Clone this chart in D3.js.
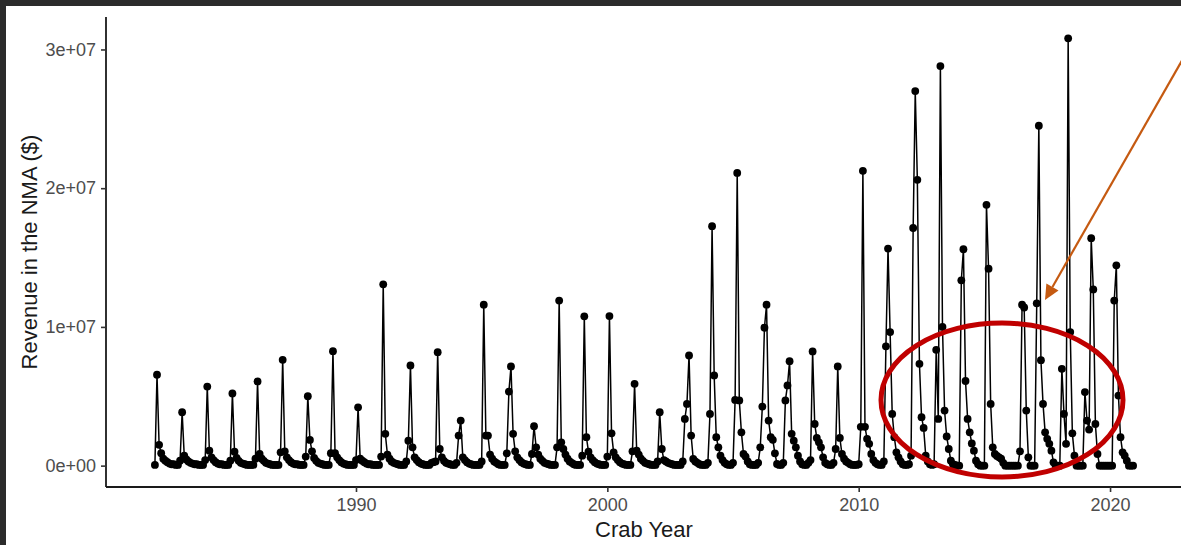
<!DOCTYPE html>
<html>
<head>
<meta charset="utf-8">
<script src="https://cdn.jsdelivr.net/npm/d3@7"></script>
<style>
  body { margin: 0; background: #ffffff; }
  svg { display: block; font-family: "Liberation Sans", Arial, sans-serif; }
</style>
</head>
<body>
<svg></svg>
<script>
'use strict';

// crab years on the x axis (one row of monthly revenue per year)
var crabYears = [1982, 1983, 1984, 1985, 1986, 1987, 1988, 1989, 1990, 1991,
                 1992, 1993, 1994, 1995, 1996, 1997, 1998, 1999, 2000, 2001,
                 2002, 2003, 2004, 2005, 2006, 2007, 2008, 2009, 2010, 2011,
                 2012, 2013, 2014, 2015, 2016, 2017, 2018, 2019, 2020];

// monthly revenue in the NMA, millions of dollars, 12 values per crab year
var monthlyRevenue = [
    [0.05, 6.55, 1.5, 0.9, 0.5, 0.36, 0.25, 0.15, 0.1, 0.1, 0.05, 0.05],
    [0.36, 3.85, 0.72, 0.45, 0.3, 0.2, 0.15, 0.1, 0.1, 0.05, 0.05, 0.05],
    [0.4, 5.7, 1.08, 0.6, 0.4, 0.25, 0.15, 0.1, 0.1, 0.05, 0.05, 0.05],
    [0.36, 5.2, 1.0, 0.55, 0.35, 0.2, 0.15, 0.1, 0.05, 0.05, 0.05, 0.05],
    [0.5, 6.07, 0.84, 0.5, 0.35, 0.2, 0.15, 0.1, 0.05, 0.05, 0.05, 0.05],
    [0.96, 7.63, 1.03, 0.6, 0.4, 0.25, 0.15, 0.1, 0.1, 0.05, 0.05, 0.05],
    [0.65, 5.0, 1.85, 1.03, 0.55, 0.35, 0.2, 0.15, 0.1, 0.05, 0.05, 0.05],
    [0.9, 8.25, 0.9, 0.6, 0.4, 0.25, 0.15, 0.1, 0.05, 0.05, 0.05, 0.05],
    [0.4, 4.2, 0.5, 0.36, 0.25, 0.15, 0.1, 0.1, 0.05, 0.05, 0.05, 0.05],
    [0.65, 13.07, 2.29, 0.8, 0.5, 0.3, 0.2, 0.15, 0.1, 0.05, 0.05, 0.05],
    [0.3, 1.8, 7.22, 1.32, 0.6, 0.4, 0.25, 0.15, 0.1, 0.05, 0.05, 0.05],
    [0.2, 0.25, 0.3, 8.18, 1.2, 0.6, 0.35, 0.2, 0.15, 0.1, 0.05, 0.05],
    [0.2, 2.17, 3.25, 0.6, 0.4, 0.25, 0.15, 0.1, 0.05, 0.05, 0.05, 0.05],
    [0.3, 11.6, 2.17, 2.17, 0.8, 0.5, 0.3, 0.2, 0.1, 0.05, 0.05, 0.05],
    [0.89, 5.34, 7.15, 2.29, 1.03, 0.6, 0.4, 0.25, 0.15, 0.1, 0.05, 0.05],
    [0.84, 2.84, 1.32, 0.8, 0.5, 0.35, 0.2, 0.15, 0.1, 0.05, 0.05, 0.05],
    [1.32, 11.9, 1.68, 1.2, 0.8, 0.5, 0.3, 0.2, 0.1, 0.05, 0.05, 0.05],
    [0.72, 10.76, 2.05, 1.0, 0.6, 0.4, 0.25, 0.15, 0.1, 0.05, 0.05, 0.05],
    [0.65, 10.78, 2.33, 0.96, 0.6, 0.4, 0.25, 0.15, 0.1, 0.05, 0.05, 0.05],
    [1.03, 5.9, 1.08, 0.8, 0.5, 0.35, 0.2, 0.15, 0.1, 0.05, 0.05, 0.05],
    [0.3, 3.85, 1.2, 0.4, 0.3, 0.2, 0.15, 0.1, 0.05, 0.05, 0.05, 0.05],
    [0.3, 3.37, 4.45, 7.94, 2.17, 0.48, 0.3, 0.2, 0.1, 0.05, 0.05, 0.05],
    [0.2, 3.73, 17.26, 6.5, 2.05, 1.32, 0.72, 0.4, 0.2, 0.1, 0.05, 0.05],
    [0.2, 4.74, 21.1, 4.7, 2.4, 0.84, 0.65, 0.3, 0.1, 0.05, 0.05, 0.05],
    [0.2, 1.32, 4.26, 9.94, 11.6, 3.25, 2.05, 1.86, 0.89, 0.12, 0.05, 0.05],
    [0.2, 4.7, 5.78, 7.53, 2.29, 1.8, 1.32, 0.72, 0.3, 0.1, 0.05, 0.05],
    [0.2, 0.4, 8.23, 3.0, 2.0, 1.68, 1.32, 0.6, 0.2, 0.1, 0.05, 0.05],
    [0.2, 1.2, 7.15, 2.0, 0.84, 0.5, 0.3, 0.2, 0.1, 0.05, 0.05, 0.05],
    [0.1, 2.8, 21.25, 2.8, 1.93, 1.57, 0.84, 0.4, 0.2, 0.1, 0.05, 0.05],
    [0.3, 8.6, 15.65, 9.63, 3.73, 2.05, 0.96, 0.6, 0.3, 0.1, 0.05, 0.05],
    [0.1, 0.72, 17.13, 27.0, 20.6, 7.34, 3.49, 2.72, 0.72, 0.3, 0.1, 0.05],
    [0.1, 8.35, 3.37, 28.8, 10.0, 3.97, 2.1, 1.2, 0.36, 0.1, 0.05, 0],
    [0, 13.36, 15.6, 6.1, 3.37, 2.4, 1.6, 1.08, 0.36, 0.1, 0, 0],
    [0, 18.8, 14.2, 4.45, 1.32, 0.84, 0.7, 0.6, 0.5, 0.2, 0, 0],
    [0, 0, 0, 0, 0, 1.03, 11.6, 11.4, 3.97, 0.6, 0, 0],
    [0, 11.7, 24.5, 7.6, 4.45, 2.4, 1.93, 1.57, 1.08, 0.24, 0, 0],
    [0, 6.98, 3.73, 1.57, 30.8, 9.63, 2.33, 0.72, 0, 0, 0, 0],
    [5.3, 3.25, 2.6, 16.4, 12.7, 3.0, 0.84, 0, 0, 0, 0, 0],
    [0, 0, 11.9, 14.44, 5.05, 2.05, 0.96, 0.72, 0.36, 0, 0, 0]
];

// axis ticks
var xTickValues = [1990, 2000, 2010, 2020];
var yTickValues = [0, 1e7, 2e7, 3e7];
var yTickLabels = ['0e+00', '1e+07', '2e+07', '3e+07'];

var SVG_SIZE = { width: 1181, height: 545 };
var PANEL = { left: 106, right: 1182, top: 17, bottom: 487 };

var svg = d3.select('svg')
    .attr('width', SVG_SIZE.width).attr('height', SVG_SIZE.height);

// dark screenshot border along the top and left
svg.append('rect').attr('x', 0).attr('y', 0).attr('width', SVG_SIZE.width).attr('height', 6).attr('fill', '#2b2b2b');
svg.append('rect').attr('x', 0).attr('y', 0).attr('width', 6).attr('height', SVG_SIZE.height).attr('fill', '#2b2b2b');

// flatten into one monthly series
var points = [];
crabYears.forEach(function (yr, i) {
    monthlyRevenue[i].forEach(function (v, m) {
        points.push({ t: yr + m / 12, revenue: v * 1e6 });
    });
});

// ggplot style 5% expansion on both scales
var tExtent = d3.extent(points, function (d) { return d.t });
var tPad = (tExtent[1] - tExtent[0]) * 0.05;
var xScale = d3.scaleLinear()
    .domain([tExtent[0] - tPad, tExtent[1] + tPad])
    .range([PANEL.left, PANEL.right]);

var rMax = d3.max(points, function (d) { return d.revenue });
var yScale = d3.scaleLinear()
    .domain([-rMax * 0.05, rMax * 1.05])
    .range([PANEL.bottom, PANEL.top]);

// line + points
var line = d3.line()
    .x(function (d) { return xScale(d.t) })
    .y(function (d) { return yScale(d.revenue) });

svg.append('path')
    .datum(points)
    .attr('d', line)
    .attr('fill', 'none')
    .attr('stroke', '#000')
    .attr('stroke-width', 1.5)
    .attr('stroke-linejoin', 'round');

svg.append('g').selectAll('circle')
    .data(points)
    .enter().append('circle')
    .attr('cx', function (d) { return xScale(d.t) })
    .attr('cy', function (d) { return yScale(d.revenue) })
    .attr('r', 3.9)
    .attr('fill', '#000');

// axes
var xAxis = d3.axisBottom(xScale)
    .tickValues(xTickValues)
    .tickFormat(d3.format('d'))
    .tickSizeOuter(0)
    .tickSize(5)
    .tickPadding(6);
var gx = svg.append('g')
    .attr('transform', 'translate(0,' + PANEL.bottom + ')')
    .call(xAxis);

var yAxis = d3.axisLeft(yScale)
    .tickValues(yTickValues)
    .tickFormat(function (d, i) { return yTickLabels[i] })
    .tickSizeOuter(0)
    .tickSize(5)
    .tickPadding(5);
var gy = svg.append('g')
    .attr('transform', 'translate(' + PANEL.left + ',0)')
    .call(yAxis);

[gx, gy].forEach(function (g) {
    g.select('.domain').attr('stroke', '#1a1a1a').attr('stroke-width', 1.8);
    g.selectAll('.tick line').attr('stroke', '#333').attr('stroke-width', 1.6);
    g.selectAll('.tick text')
        .attr('fill', '#4d4d4d')
        .style('font-size', '18px')
        .style('font-family', '"Liberation Sans", Arial, sans-serif');
});
// stretch the axis lines across the whole panel
gx.select('.domain').attr('d', 'M' + PANEL.left + ',0H' + PANEL.right);
gy.select('.domain').attr('d', 'M0,' + PANEL.top + 'V' + PANEL.bottom);

// axis titles
svg.append('text')
    .text('Crab Year')
    .attr('x', (PANEL.left + PANEL.right) / 2)
    .attr('y', 537)
    .attr('text-anchor', 'middle')
    .attr('fill', '#1a1a1a')
    .style('font-size', '22px');
svg.append('text')
    .text('Revenue in the NMA ($)')
    .attr('transform', 'translate(37,' + (PANEL.top + PANEL.bottom) / 2 + ') rotate(-90)')
    .attr('text-anchor', 'middle')
    .attr('fill', '#1a1a1a')
    .style('font-size', '22px');

// annotation: red ellipse round the 2014-2020 seasons
svg.append('ellipse')
    .attr('cx', 1002).attr('cy', 400)
    .attr('rx', 121).attr('ry', 77)
    .attr('fill', 'none')
    .attr('stroke', '#c00000')
    .attr('stroke-width', 5);

// annotation: orange arrow coming in from the top right
var tip = [1045, 300], start = [1200, 29];
var ang = Math.atan2(tip[1] - start[1], tip[0] - start[0]);
var headLen = 15, headHalf = 7;
var base = [tip[0] - headLen * Math.cos(ang), tip[1] - headLen * Math.sin(ang)];
svg.append('line')
    .attr('x1', start[0]).attr('y1', start[1])
    .attr('x2', base[0]).attr('y2', base[1])
    .attr('stroke', '#c55a11')
    .attr('stroke-width', 2.2);
svg.append('polygon')
    .attr('points', [
        tip,
        [base[0] + headHalf * Math.sin(ang), base[1] - headHalf * Math.cos(ang)],
        [base[0] - headHalf * Math.sin(ang), base[1] + headHalf * Math.cos(ang)]
    ].map(function (p) { return p.join(',') }).join(' '))
    .attr('fill', '#c55a11');
</script>
</body>
</html>
